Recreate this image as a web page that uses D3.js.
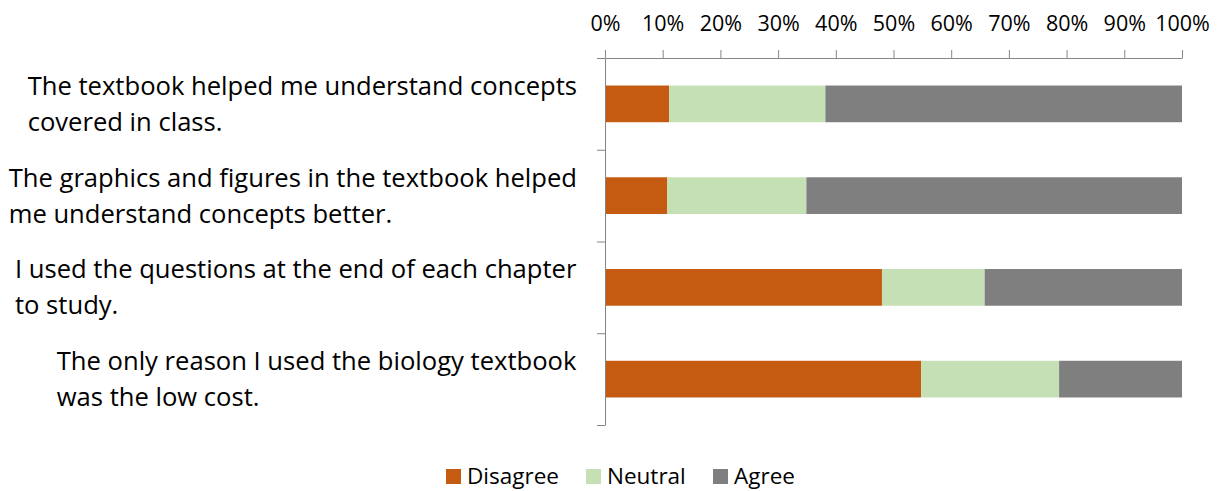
<!DOCTYPE html>
<html>
<head>
<meta charset="utf-8">
<script src="https://cdn.jsdelivr.net/npm/d3@7"></script>
<style>
  body { margin: 0; background: #fff; }
  text { font-family: "Open Sans", Lato, sans-serif; fill: #000; }
</style>
</head>
<body>
<script>
var categories = [
  ["The textbook helped me understand concepts", "covered in class."],
  ["The graphics and figures in the textbook helped", "me understand concepts better."],
  ["I used the questions at the end of each chapter", "to study."],
  ["The only reason I used the biology textbook", "was the low cost."]
];
var seriesNames = ["Disagree", "Neutral", "Agree"];
var disagree = [11.1, 10.8, 48.0, 54.8];
var neutral = [27.1, 24.1, 17.8, 23.9];
var agree = [61.8, 65.1, 34.2, 21.3];
var tickValues = [0, 10, 20, 30, 40, 50, 60, 70, 80, 90, 100];
var colors = ["#C55A11", "#C5E0B4", "#7F7F7F"];

var width = 1225, height = 491;
var margin = {top: 58, right: 43, bottom: 66, left: 605};

var svg = d3.select("body").append("svg")
    .attr("width", width)
    .attr("height", height);

var x = d3.scaleLinear().domain([0, 100]).range([margin.left, width - margin.right]);
var y = d3.scaleBand().domain(d3.range(categories.length))
    .range([margin.top, height - margin.bottom]).paddingInner(0.6).paddingOuter(0.3);

var rows = categories.map(function(c, i){
  return {i: i, Disagree: disagree[i], Neutral: neutral[i], Agree: agree[i]};
});
var stack = d3.stack().keys(seriesNames)(rows);

svg.append("g").selectAll("g")
  .data(stack)
  .join("g")
    .attr("fill", function(d, k){ return colors[k]; })
  .selectAll("rect")
  .data(function(d){ return d; })
  .join("rect")
    .attr("x", function(d){ return x(d[0]); })
    .attr("width", function(d){ return x(d[1]) - x(d[0]); })
    .attr("y", function(d){ return y(d.data.i); })
    .attr("height", y.bandwidth());

// top axis
var xAxis = svg.append("g")
    .attr("transform", "translate(0," + margin.top + ")")
    .call(d3.axisTop(x).tickValues(tickValues).tickFormat(function(d){ return d + "%"; })
      .tickSizeInner(8).tickSizeOuter(0).tickPadding(19));
xAxis.selectAll("line, path").attr("stroke", "#868686");
xAxis.selectAll("text").attr("font-size", 21.5).style("font-family", "'Open Sans', sans-serif");

// left axis: ticks on category boundaries
var yb = d3.scaleLinear().domain([0, categories.length]).range([margin.top, height - margin.bottom]);
var yAxis = svg.append("g")
    .attr("transform", "translate(" + margin.left + ",0)")
    .call(d3.axisLeft(yb).ticks(categories.length).tickFormat("").tickSizeInner(8).tickSizeOuter(0));
yAxis.selectAll("line, path").attr("stroke", "#868686");

// category labels
var labelRight = 577;
categories.forEach(function(lines, i){
  var cy = y(i) + y.bandwidth() / 2;
  var t = svg.append("text").attr("font-size", 25.6);
  lines.forEach(function(l, j){
    t.append("tspan").attr("x", 0).attr("y", cy + (j - 0.5) * 36 + 9).text(l);
  });
  var w = t.node().getBBox().width;
  t.selectAll("tspan").attr("x", labelRight - w);
});

// legend
var legendX = [446, 586, 713];
var lg = svg.append("g").selectAll("g")
  .data(seriesNames)
  .join("g")
    .attr("transform", function(d, k){ return "translate(" + legendX[k] + ",469)"; });
lg.append("rect").attr("width", 15).attr("height", 15)
  .attr("fill", function(d, k){ return colors[k]; });
lg.append("text").attr("x", 21).attr("y", 15).attr("font-size", 22.5).text(function(d){ return d; });
</script>
</body>
</html>
